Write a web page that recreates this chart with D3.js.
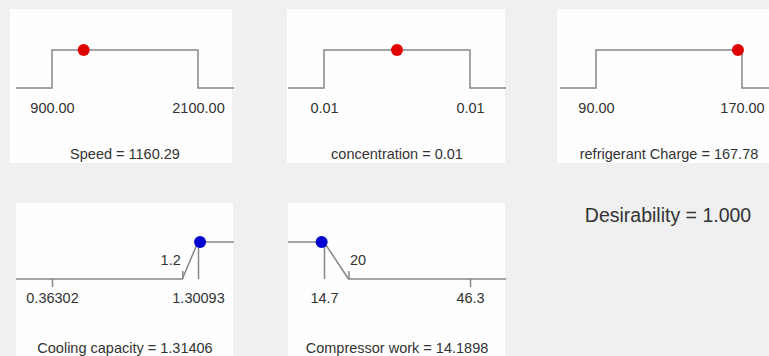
<!DOCTYPE html>
<html><head><meta charset="utf-8">
<script src="https://cdn.jsdelivr.net/npm/d3@7"></script>
<style>
html,body{margin:0;padding:0;background:#f0f0f0;}
svg{display:block;}
text{font-family:"Liberation Sans",Arial,sans-serif;fill:#333333;}
</style></head><body>
<svg id="chart" width="769" height="356"></svg>
<script>
// Factor settings (ramps for the optimisation inputs)
const factorNames = ["Speed", "concentration", "refrigerant Charge"];
const factorLow = [900, 0.005, 90];
const factorHigh = [2100, 0.015, 170];
const factorValues = [1160.29, 0.01, 167.78];
const factorTickLabels = [["900.00", "2100.00"], ["0.01", "0.01"], ["90.00", "170.00"]];
const factorValueLabels = ["1160.29", "0.01", "167.78"];

// Response desirability ramps
const responseNames = ["Cooling capacity", "Compressor work"];
const responseGoals = ["maximize", "minimize"];
const responseMin = [0.36302, 14.7];
const responseMax = [1.30093, 46.3];
const responseLimit = [1.2, 20];
const responseValues = [1.31406, 14.1898];
const responseTickLabels = [["0.36302", "1.30093"], ["14.7", "46.3"]];
const responseLimitLabels = ["1.2", "20"];
const responseValueLabels = ["1.31406", "14.1898"];

const desirabilityValue = 1.000;

// ---- layout ----
const svg = d3.select("#chart");
const panelX0 = [16, 288, 560];
const plotW = 218, innerL = 36, innerR = 182;
const lineColor = "#878787";
const labelSize = "14.5px";
const topBoxes = [[10, 9, 222, 154], [287, 9, 218, 154], [557, 9, 215, 154]];
const bottomBoxes = [[16, 203, 217, 153], [288, 203, 217, 153]];
const yTop = d3.scaleLinear().domain([0, 1]).range([88, 50]);
const yBottom = d3.scaleLinear().domain([0, 1]).range([279, 242]);

topBoxes.concat(bottomBoxes).forEach(b => {
  svg.append("rect").attr("x", b[0]).attr("y", b[1]).attr("width", b[2]).attr("height", b[3])
    .attr("fill", "#fefefe");
});

function styleAxis(g) {
  g.attr("font-family", null).attr("font-size", null);
  g.select(".domain").remove();
  g.selectAll("line").attr("stroke", lineColor).attr("stroke-width", 1.5);
  g.selectAll("text").attr("fill", "#333333").style("font-size", labelSize);
}

// ---- factor panels ----
factorNames.forEach((name, i) => {
  const x0 = panelX0[i];
  const x = d3.scaleLinear().domain([factorLow[i], factorHigh[i]]).range([x0 + innerL, x0 + innerR]);
  const left = x.invert(x0), right = x.invert(x0 + plotW);
  const pts = [[left, 0], [factorLow[i], 0], [factorLow[i], 1], [factorHigh[i], 1], [factorHigh[i], 0], [right, 0]];
  const line = d3.line().x(d => x(d[0])).y(d => yTop(d[1]));
  svg.append("path").attr("d", line(pts)).attr("fill", "none")
    .attr("stroke", lineColor).attr("stroke-width", 1.5);

  const axis = d3.axisBottom(x).tickValues([factorLow[i], factorHigh[i]])
    .tickFormat((d, k) => factorTickLabels[i][k]).tickSize(0).tickPadding(15);
  svg.append("g").attr("transform", `translate(0,${yTop(0)})`).call(axis).call(styleAxis);

  svg.append("circle").attr("cx", x(factorValues[i])).attr("cy", yTop(1)).attr("r", 6)
    .attr("fill", "#e00000");

  svg.append("text").attr("x", x0 + 109).attr("y", 159).attr("text-anchor", "middle")
    .style("font-size", labelSize).text(`${name} = ${factorValueLabels[i]}`);
});

// ---- response panels ----
responseNames.forEach((name, i) => {
  const x0 = panelX0[i];
  const x = d3.scaleLinear().domain([responseMin[i], responseMax[i]]).range([x0 + innerL, x0 + innerR]);
  const left = x.invert(x0), right = x.invert(x0 + plotW);
  const maximize = responseGoals[i] === "maximize";
  const target = maximize ? responseMax[i] : responseMin[i];
  const limit = responseLimit[i];
  const pts = maximize
    ? [[left, 0], [limit, 0], [target, 1], [right, 1]]
    : [[left, 1], [target, 1], [limit, 0], [right, 0]];
  const line = d3.line().x(d => x(d[0])).y(d => yBottom(d[1]));
  svg.append("path").attr("d", line(pts)).attr("fill", "none")
    .attr("stroke", lineColor).attr("stroke-width", 1.5);

  // data range ticks; the tick at the goal target rises to full desirability
  const axis = d3.axisBottom(x).tickValues([responseMin[i], responseMax[i]])
    .tickFormat((d, k) => responseTickLabels[i][k]).tickSize(8).tickPadding(6);
  const g = svg.append("g").attr("transform", `translate(0,${yBottom(0)})`).call(axis).call(styleAxis);
  g.selectAll(".tick line").filter(d => d === target).attr("y2", yBottom(1) - yBottom(0));

  // goal limit tick
  const limAxis = d3.axisTop(x).tickValues([limit]).tickFormat(() => responseLimitLabels[i])
    .tickSize(8).tickPadding(6);
  const gl = svg.append("g").attr("transform", `translate(0,${yBottom(0)})`).call(limAxis).call(styleAxis);
  gl.selectAll("text").attr("text-anchor", maximize ? "end" : "start").attr("x", maximize ? -2 : 1);

  const v = responseValues[i];
  const d = maximize
    ? Math.max(0, Math.min(1, (v - limit) / (target - limit)))
    : Math.max(0, Math.min(1, (limit - v) / (limit - target)));
  svg.append("circle").attr("cx", x(v)).attr("cy", yBottom(d)).attr("r", 6)
    .attr("fill", "#0000d0");

  svg.append("text").attr("x", x0 + 109).attr("y", 353).attr("text-anchor", "middle")
    .style("font-size", labelSize).text(`${name} = ${responseValueLabels[i]}`);
});

// ---- overall desirability ----
svg.append("text").attr("x", 668).attr("y", 222).attr("text-anchor", "middle")
  .style("font-size", "19.5px").text(`Desirability = ${desirabilityValue.toFixed(3)}`);
</script>
</body></html>
